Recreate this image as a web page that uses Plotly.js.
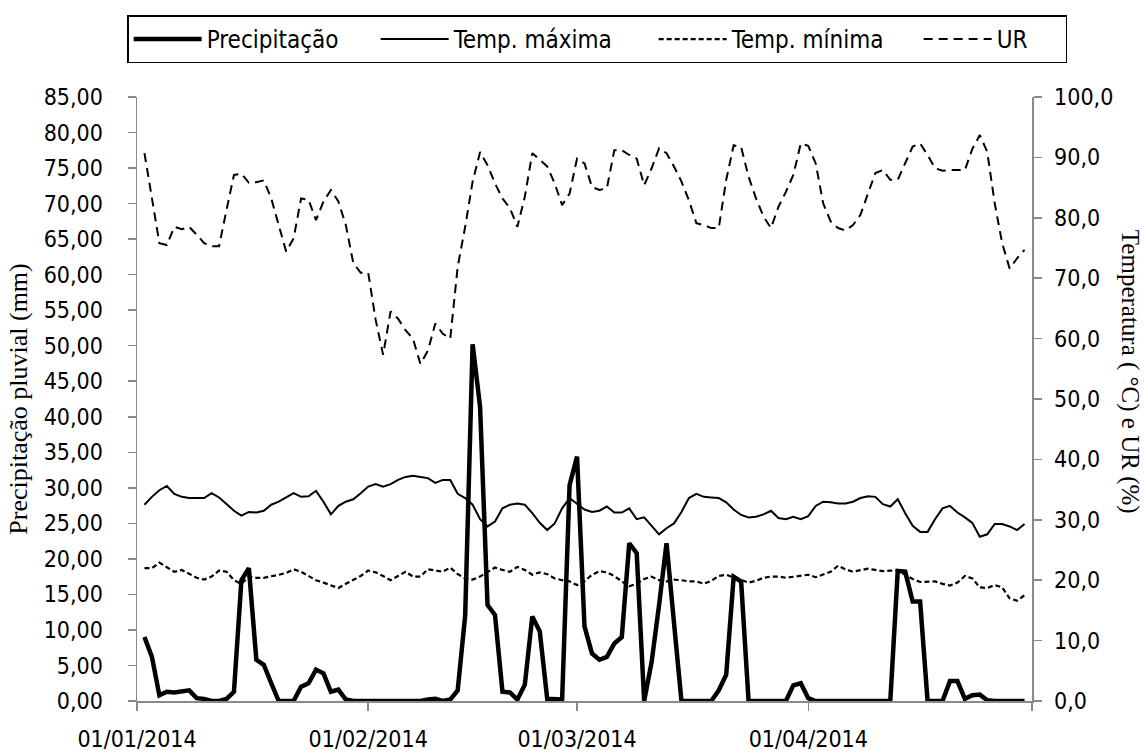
<!DOCTYPE html>
<html><head><meta charset="utf-8">
<script src="https://cdn.plot.ly/plotly-3.0.1.min.js"></script>
<style>html,body{margin:0;padding:0;background:#fff}#chart{width:1144px;height:751px}</style>
</head><body><div id="chart"></div>
<script>
// Daily series, 02/01/2014 .. 30/04/2014
const firstDay = [2014, 0, 2];
const precipitacao = [
  9.0, 6.2, 0.8, 1.3, 1.2, 1.4, 1.5, 0.4, 0.3, 0,
  0, 0.3, 1.3, 17.0, 18.7, 5.8, 5.1, 2.5, 0, 0,
  0, 2.0, 2.5, 4.4, 3.9, 1.3, 1.6, 0.2, 0, 0,
  0, 0, 0, 0, 0, 0, 0, 0, 0.2, 0.3,
  0, 0.2, 1.5, 12.0, 50.2, 41.4, 13.5, 12.1, 1.3, 1.2,
  0.2, 2.3, 11.9, 9.8, 0.3, 0.2, 0.2, 30.4, 34.4, 10.5,
  6.7, 5.8, 6.2, 8.1, 9.0, 22.2, 20.8, 0, 5.5, 13.5,
  22.2, 11.0, 0, 0, 0, 0, 0, 1.5, 3.7, 17.5,
  16.8, 0, 0, 0, 0, 0, 0, 2.2, 2.5, 0.4,
  0, 0, 0, 0, 0, 0, 0, 0, 0, 0,
  0, 18.3, 18.2, 14.0, 14.0, 0, 0, 0, 2.8, 2.8,
  0.3, 0.8, 0.9, 0.1, 0, 0, 0, 0, 0
];
const tempMaxima = [
  32.5, 33.8, 34.9, 35.6, 34.3, 33.8, 33.6, 33.6, 33.6, 34.4,
  33.7, 32.6, 31.5, 30.7, 31.3, 31.2, 31.5, 32.5, 33.0, 33.7,
  34.4, 33.8, 33.9, 34.8, 33.0, 30.9, 32.3, 33.0, 33.4, 34.4,
  35.5, 35.9, 35.5, 35.9, 36.6, 37.1, 37.3, 37.1, 36.9, 36.1,
  36.6, 36.6, 34.3, 33.6, 32.5, 30.1, 28.9, 29.7, 31.9, 32.5,
  32.7, 32.5, 31.1, 29.5, 28.3, 29.4, 31.9, 33.6, 32.6, 31.7,
  31.3, 31.5, 32.2, 31.2, 31.2, 31.9, 30.1, 30.4, 29.0, 27.6,
  28.6, 29.4, 31.3, 33.6, 34.3, 33.8, 33.7, 33.6, 32.9, 31.7,
  30.8, 30.4, 30.5, 30.9, 31.5, 30.3, 30.1, 30.5, 30.1, 30.6,
  32.3, 33.0, 32.9, 32.7, 32.7, 33.0, 33.6, 33.9, 33.8, 32.6,
  32.2, 33.4, 31.1, 29.0, 28.0, 28.0, 30.1, 31.9, 32.3, 31.2,
  30.4, 29.5, 27.2, 27.6, 29.3, 29.3, 28.9, 28.3, 29.3
];
const tempMinima = [
  22.0, 22.0, 22.9, 22.1, 21.4, 21.7, 21.1, 20.4, 20.1, 20.6,
  21.6, 21.4, 20.0, 19.4, 20.6, 20.4, 20.4, 20.6, 20.9, 21.2,
  21.8, 21.4, 20.7, 20.0, 19.6, 19.2, 18.7, 19.4, 20.0, 20.7,
  21.6, 21.3, 20.7, 20.0, 20.7, 21.4, 20.6, 20.6, 21.8, 21.6,
  21.4, 22.1, 21.0, 20.3, 20.1, 20.6, 21.4, 22.1, 21.7, 21.4,
  22.2, 21.7, 20.9, 21.3, 21.0, 20.3, 20.0, 19.8, 19.2, 19.8,
  20.9, 21.5, 21.3, 20.7, 19.8, 19.0, 19.4, 20.2, 20.6, 20.0,
  19.8, 20.1, 20.0, 19.8, 19.8, 19.4, 19.9, 20.7, 20.9, 20.5,
  20.0, 19.6, 19.9, 20.4, 20.6, 20.6, 20.4, 20.6, 20.8, 20.9,
  20.5, 20.9, 21.4, 22.4, 21.8, 21.4, 21.7, 21.9, 21.7, 21.5,
  21.6, 21.6, 20.9, 20.2, 19.7, 19.8, 19.8, 19.4, 19.1, 19.6,
  20.7, 20.3, 18.8, 18.7, 19.2, 18.8, 17.0, 16.6, 17.5
];
const ur = [
  90.7, 83.5, 75.8, 75.5, 78.5, 78.1, 78.5, 77.2, 75.8, 75.3,
  75.3, 81.3, 87.1, 87.3, 85.8, 85.9, 86.2, 83.2, 78.8, 74.4,
  76.6, 83.2, 83.0, 79.6, 82.7, 84.6, 82.7, 78.8, 72.5, 70.9,
  70.9, 63.1, 57.3, 64.5, 63.3, 61.4, 60.0, 55.8, 58.0, 62.5,
  60.8, 60.0, 71.9, 78.5, 86.0, 90.9, 88.7, 85.7, 83.2, 81.6,
  78.5, 83.5, 90.7, 89.6, 88.5, 85.7, 82.1, 84.0, 89.8, 89.0,
  85.1, 84.6, 84.9, 91.2, 91.2, 90.4, 89.8, 85.4, 88.2, 91.5,
  90.7, 88.5, 86.0, 82.9, 79.1, 78.8, 78.3, 78.3, 86.3, 92.0,
  91.7, 86.8, 83.2, 80.2, 78.3, 81.8, 84.3, 87.1, 92.3, 91.9,
  89.0, 82.4, 79.4, 78.3, 77.9, 78.8, 80.5, 84.0, 87.4, 87.9,
  86.3, 86.3, 89.0, 91.8, 92.3, 90.4, 88.2, 87.8, 87.9, 87.9,
  87.9, 91.4, 93.7, 90.9, 82.4, 75.8, 71.6, 73.3, 74.7
];
const seriesNames = ['Precipitação', 'Temp. máxima', 'Temp. mínima', 'UR'];
const xTickDates = ['2014-01-01', '2014-02-01', '2014-03-01', '2014-04-01', '2014-05-01'];
const xTickLabels = ['01/01/2014', '01/02/2014', '01/03/2014', '01/04/2014', ''];
const yLeftTitle = 'Precipitação pluvial (mm)';
const yRightTitle = 'Temperatura ( °C) e UR (%)';

const dates = precipitacao.map((_, i) =>
  new Date(Date.UTC(firstDay[0], firstDay[1], firstDay[2] + i)).toISOString().slice(0, 10));

const SANS = '"DejaVu Sans Condensed", "DejaVu Sans", sans-serif';
const SERIF = '"Liberation Serif", "Times New Roman", serif';
const AX = '#898989';

const traces = [
  {x: dates, y: precipitacao, name: seriesNames[0], type: 'scatter', mode: 'lines', yaxis: 'y',
   line: {color: '#000', width: 4.5}, legendwidth: 164},
  {x: dates, y: tempMaxima, name: seriesNames[1], type: 'scatter', mode: 'lines', yaxis: 'y2',
   line: {color: '#000', width: 2}, legendwidth: 195},
  {x: dates, y: tempMinima, name: seriesNames[2], type: 'scatter', mode: 'lines', yaxis: 'y2',
   line: {color: '#000', width: 2.2, dash: '5px,3px'}, legendwidth: 182},
  {x: dates, y: ur, name: seriesNames[3], type: 'scatter', mode: 'lines', yaxis: 'y2',
   line: {color: '#000', width: 2, dash: '9px,6px'}, legendwidth: 64}
];

const tickFont = {family: SANS, size: 23, color: '#000'};
const layout = {
  width: 1144, height: 751,
  margin: {l: 137, r: 112, t: 97, b: 50},
  paper_bgcolor: '#fff', plot_bgcolor: '#fff',
  separators: ',.',
  showlegend: true,
  legend: {orientation: 'h', x: -0.011, xanchor: 'left', y: 1.135, yanchor: 'top',
           bordercolor: '#000', borderwidth: 1.5, bgcolor: '#fff',
           font: {family: SANS, size: 24, color: '#000'}, itemwidth: 68, traceorder: 'normal'},
  xaxis: {type: 'date', range: ['2014-01-01', '2014-05-01'], tickmode: 'array',
          tickvals: xTickDates, ticktext: xTickLabels, ticks: 'outside', ticklen: 8, tickwidth: 1.5,
          tickcolor: AX, showline: true, linecolor: AX, linewidth: 1.5, showgrid: false,
          zeroline: false, tickfont: tickFont, ticklabelstandoff: 9, fixedrange: true},
  yaxis: {range: [0, 85], tick0: 0, dtick: 5, tickformat: '.2f', ticks: 'outside', ticklen: 8,
          tickwidth: 1.5, tickcolor: AX, showline: true, linecolor: AX, linewidth: 1.5,
          showgrid: false, zeroline: false, tickfont: tickFont, ticklabelstandoff: 20,
          title: {text: yLeftTitle, font: {family: SERIF, size: 26, color: '#000'}, standoff: 8}},
  yaxis2: {overlaying: 'y', side: 'right', range: [0, 100], tick0: 0, dtick: 10, tickformat: '.1f',
           ticks: 'outside', ticklen: 8, tickwidth: 1.5, tickcolor: AX, showline: true,
           linecolor: AX, linewidth: 1.5, showgrid: false, zeroline: false, tickfont: tickFont,
           ticklabelstandoff: 8},
  annotations: [{text: yRightTitle, textangle: 90, xref: 'paper', yref: 'paper', x: 1.1095, y: 0.545,
                 xanchor: 'center', yanchor: 'middle', showarrow: false,
                 font: {family: SERIF, size: 25, color: '#000'}}]
};

Plotly.newPlot('chart', traces, layout, {displayModeBar: false, staticPlot: true});
</script>
</body></html>
